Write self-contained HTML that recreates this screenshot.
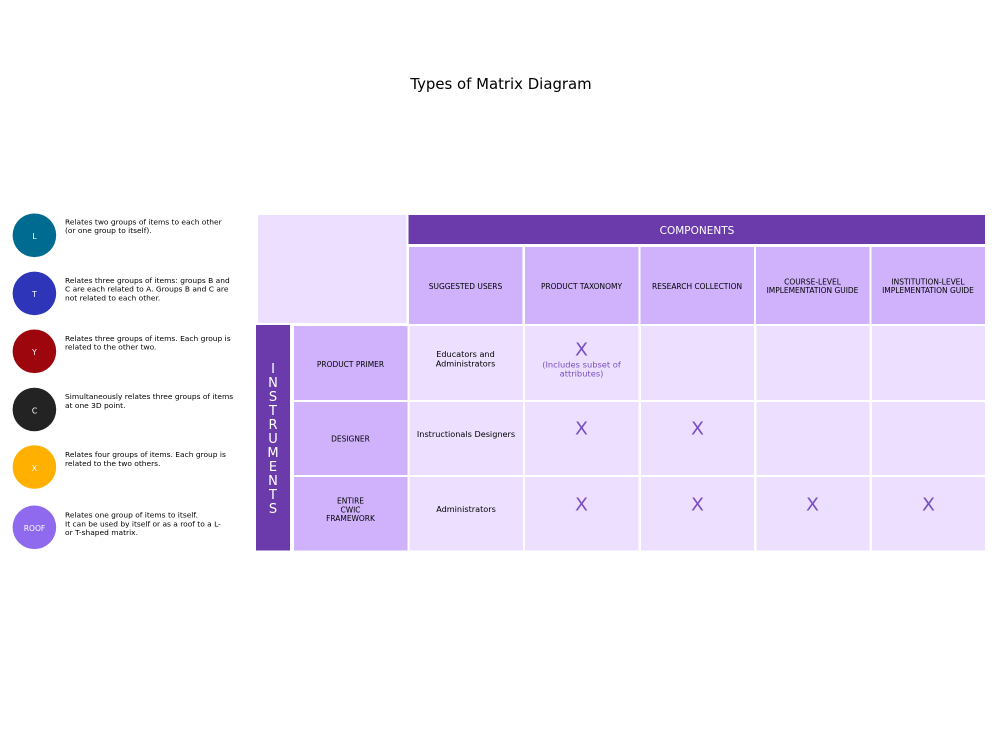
<!DOCTYPE html>
<html><head><meta charset="utf-8">
<style>
html,body{margin:0;padding:0;background:#fff;width:1000px;height:730px;overflow:hidden}
svg{display:block}
text{font-family:"DejaVu Sans",sans-serif}
.l{font-size:7.47px;fill:#000}
.c{font-size:7.6px;fill:#fff;text-anchor:middle}
.h{font-size:7.48px;fill:#000;text-anchor:middle}
.b{font-size:8.15px;fill:#000;text-anchor:middle}
.x{font-size:18px;fill:#7a4fc0;text-anchor:middle}
.s{font-size:8.3px;fill:#7a4fc0;text-anchor:middle}
.v{font-size:13px;fill:#fff;text-anchor:middle}
.p{fill:#cfb2fb}.q{fill:#ecdfff}
</style></head><body>
<svg width="1000" height="730" viewBox="0 0 1000 730" xmlns="http://www.w3.org/2000/svg">
<text x="501" y="89" text-anchor="middle" font-size="14.9" fill="#000">Types of Matrix Diagram</text>

<circle cx="34.400" cy="235.300" r="21.800" fill="#006b91"/><text class="c" x="34.500" y="239">L</text>
<circle cx="34.400" cy="293.400" r="21.800" fill="#2f35b9"/><text class="c" x="34.500" y="297">T</text>
<circle cx="34.400" cy="351.300" r="21.800" fill="#9d060c"/><text class="c" x="34.500" y="355">Y</text>
<circle cx="34.400" cy="409.500" r="21.800" fill="#232323"/><text class="c" x="34.500" y="413.500">C</text>
<circle cx="34.400" cy="467" r="21.800" fill="#ffb000"/><text class="c" x="34.500" y="471">X</text>
<circle cx="34.400" cy="527.300" r="21.800" fill="#8f6aee"/><text class="c" x="34.500" y="531">ROOF</text>

<text class="l" x="65" y="224.500">Relates two groups of items to each other</text>
<text class="l" x="65" y="233">(or one group to itself).</text>
<text class="l" x="65" y="283">Relates three groups of items: groups B and</text>
<text class="l" x="65" y="291.500">C are each related to A. Groups B and C are</text>
<text class="l" x="65" y="300.500">not related to each other.</text>
<text class="l" x="65" y="341">Relates three groups of items. Each group is</text>
<text class="l" x="65" y="349.500">related to the other two.</text>
<text class="l" x="65" y="399">Simultaneously relates three groups of items</text>
<text class="l" x="65" y="408">at one 3D point.</text>
<text class="l" x="65" y="457">Relates four groups of items. Each group is</text>
<text class="l" x="65" y="466">related to the two others.</text>
<text class="l" x="65" y="517.500">Relates one group of items to itself.</text>
<text class="l" x="65" y="526.500">It can be used by itself or as a roof to a L-</text>
<text class="l" x="65" y="535">or T-shaped matrix.</text>

<rect class="q" x="258" y="215" width="148.500" height="108"/>
<rect x="408.500" y="215" width="576.500" height="29" fill="#6b3bab"/>
<text x="697" y="234" text-anchor="middle" font-size="10.500" fill="#fff">COMPONENTS</text>

<rect class="p" x="409" y="247" width="113.500" height="77"/>
<rect class="p" x="525" y="247" width="113.500" height="77"/>
<rect class="p" x="640.500" y="247" width="113.500" height="77"/>
<rect class="p" x="756" y="247" width="113.500" height="77"/>
<rect class="p" x="871.500" y="247" width="113.500" height="77"/>
<text class="h" x="465.500" y="289">SUGGESTED USERS</text>
<text class="h" x="581.500" y="289">PRODUCT TAXONOMY</text>
<text class="h" x="697" y="289">RESEARCH COLLECTION</text>
<text class="h" x="812.500" y="284.500">COURSE-LEVEL</text>
<text class="h" x="812.500" y="293">IMPLEMENTATION GUIDE</text>
<text class="h" x="928" y="284.500">INSTITUTION-LEVEL</text>
<text class="h" x="928" y="293">IMPLEMENTATION GUIDE</text>

<rect x="256" y="325" width="34" height="225.500" fill="#6b3bab"/>
<text class="v" x="273" y="373">I</text>
<text class="v" x="273" y="387">N</text>
<text class="v" x="273" y="401">S</text>
<text class="v" x="273" y="415">T</text>
<text class="v" x="273" y="429">R</text>
<text class="v" x="273" y="443">U</text>
<text class="v" x="273" y="457">M</text>
<text class="v" x="273" y="471">E</text>
<text class="v" x="273" y="485">N</text>
<text class="v" x="273" y="499">T</text>
<text class="v" x="273" y="513">S</text>

<rect class="p" x="294" y="326" width="113.500" height="74"/>
<rect class="p" x="294" y="402" width="113.500" height="73"/>
<rect class="p" x="294" y="477" width="113.500" height="73.500"/>
<text class="h" x="350.500" y="367">PRODUCT PRIMER</text>
<text class="h" x="350.500" y="441.500">DESIGNER</text>
<text class="h" x="350.500" y="503.500">ENTIRE</text>
<text class="h" x="350.500" y="512.500">CWIC</text>
<text class="h" x="350.500" y="521">FRAMEWORK</text>

<rect class="q" x="409.500" y="326" width="113.500" height="74"/>
<rect class="q" x="525" y="326" width="113.500" height="74"/>
<rect class="q" x="641" y="326" width="113" height="74"/>
<rect class="q" x="756.500" y="326" width="113" height="74"/>
<rect class="q" x="872" y="326" width="113" height="74"/>
<rect class="q" x="409.500" y="402" width="113.500" height="73"/>
<rect class="q" x="525" y="402" width="113.500" height="73"/>
<rect class="q" x="641" y="402" width="113" height="73"/>
<rect class="q" x="756.500" y="402" width="113" height="73"/>
<rect class="q" x="872" y="402" width="113" height="73"/>
<rect class="q" x="409.500" y="477" width="113.500" height="73.500"/>
<rect class="q" x="525" y="477" width="113.500" height="73.500"/>
<rect class="q" x="641" y="477" width="113" height="73.500"/>
<rect class="q" x="756.500" y="477" width="113" height="73.500"/>
<rect class="q" x="872" y="477" width="113" height="73.500"/>

<text class="b" x="465.500" y="357">Educators and</text>
<text class="b" x="465.500" y="366.500">Administrators</text>
<text class="b" x="466" y="437">Instructionals Designers</text>
<text class="b" x="466" y="512">Administrators</text>

<text class="x" x="581.500" y="355.500" textLength="13" lengthAdjust="spacingAndGlyphs">X</text>
<text class="s" x="581.500" y="367.500">(Includes subset of</text>
<text class="s" x="581.500" y="376.500">attributes)</text>
<text class="x" x="581.500" y="434.500" textLength="13" lengthAdjust="spacingAndGlyphs">X</text>
<text class="x" x="697.500" y="434.500" textLength="13" lengthAdjust="spacingAndGlyphs">X</text>
<text class="x" x="581.500" y="510.500" textLength="13" lengthAdjust="spacingAndGlyphs">X</text>
<text class="x" x="697.500" y="510.500" textLength="13" lengthAdjust="spacingAndGlyphs">X</text>
<text class="x" x="812.500" y="510.500" textLength="13" lengthAdjust="spacingAndGlyphs">X</text>
<text class="x" x="928.500" y="510.500" textLength="13" lengthAdjust="spacingAndGlyphs">X</text>
</svg>
</body></html>
